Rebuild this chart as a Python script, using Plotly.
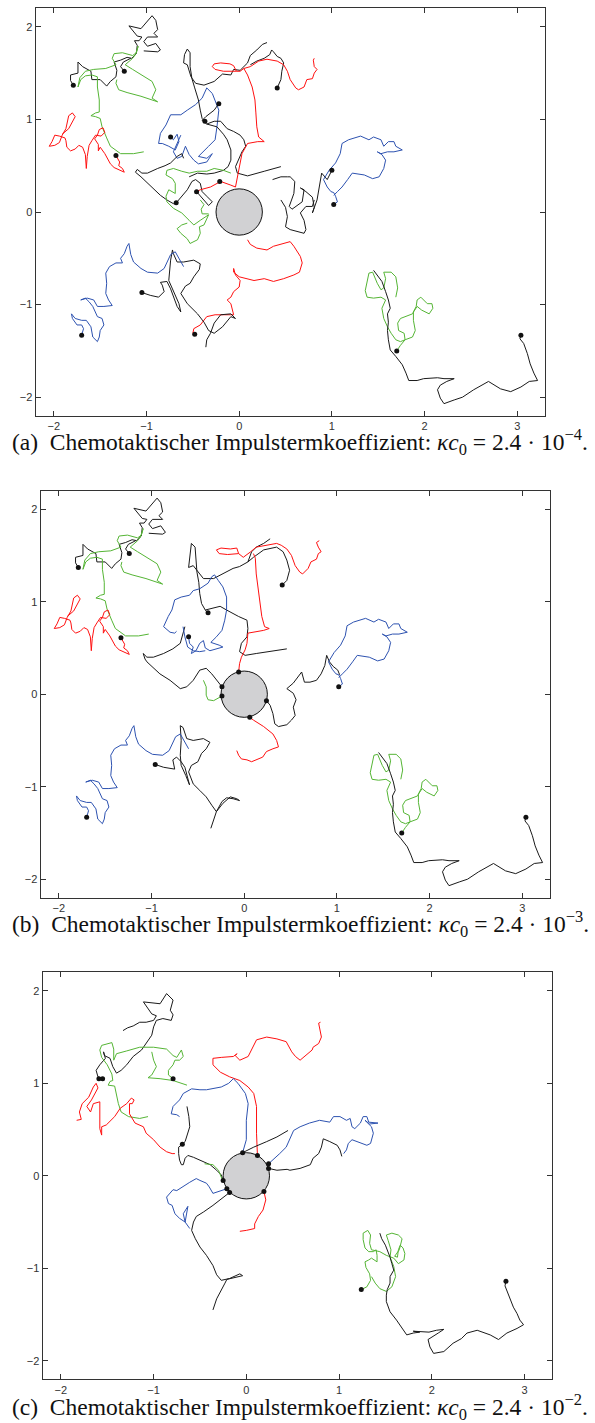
import plotly.graph_objects as go

# ---------------- tick labels ----------------
X_TICKS = [-2, -1, 0, 1, 2, 3]
Y_TICKS = [-2, -1, 0, 1, 2]
CIRCLE_RADIUS = 0.25

# ---------------- paths shared by panels (a) and (b) ----------------
TL_BLACK = [(-1.79,1.37),(-1.82,1.42),(-1.82,1.48),(-1.74,1.50),(-1.74,1.62),(-1.69,1.57),(-1.60,1.52),(-1.59,1.43),(-1.50,1.43),(-1.43,1.36),(-1.39,1.41),(-1.33,1.46),(-1.32,1.53),(-1.35,1.62),(-1.28,1.64),(-1.21,1.67),(-1.16,1.66),(-1.11,1.71),(-1.10,1.80),(-1.13,1.85),(-1.08,1.85),(-1.05,1.89),(-1.10,1.90),(-1.19,2.01),(-1.06,1.98),(-1.02,2.03),(-0.94,2.12),(-0.90,2.07),(-0.88,1.97),(-0.92,1.93),(-0.88,1.89),(-0.99,1.89),(-1.03,1.84),(-0.99,1.79),(-0.90,1.82),(-0.85,1.75),(-0.88,1.73),(-1.03,1.74)]
TL_BLACK2 = [(-1.24,1.52),(-1.28,1.57),(-1.25,1.62),(-1.17,1.66)]
TL_GREEN = [(-1.03,0.65),(-1.14,0.63),(-1.28,0.63),(-1.39,0.71),(-1.43,0.80),(-1.48,0.92),(-1.50,1.01),(-1.55,1.03),(-1.60,1.04),(-1.55,1.07),(-1.51,1.08),(-1.51,1.21),(-1.53,1.35),(-1.53,1.46),(-1.59,1.48),(-1.66,1.47),(-1.71,1.43),(-1.74,1.35),(-1.72,1.45),(-1.66,1.52),(-1.57,1.54),(-1.44,1.55),(-1.33,1.59),(-1.37,1.66),(-1.35,1.71),(-1.26,1.72),(-1.15,1.69),(-1.11,1.72),(-1.09,1.79),(-1.12,1.70),(-1.15,1.66),(-1.23,1.59),(-1.15,1.54),(-1.05,1.48),(-0.94,1.41),(-0.90,1.32),(-0.94,1.23),(-0.88,1.19),(-0.94,1.21),(-1.06,1.25),(-1.21,1.29),(-1.30,1.32),(-1.33,1.39),(-1.32,1.43)]
TL_RED = [(-1.33,0.61),(-1.29,0.54),(-1.30,0.50),(-1.26,0.47),(-1.24,0.43),(-1.29,0.45),(-1.35,0.48),(-1.39,0.52),(-1.42,0.58),(-1.45,0.63),(-1.50,0.70),(-1.52,0.66),(-1.52,0.73),(-1.56,0.79),(-1.53,0.83),(-1.51,0.89),(-1.47,0.91),(-1.45,0.86),(-1.49,0.82),(-1.55,0.83),(-1.59,0.77),(-1.62,0.72),(-1.64,0.60),(-1.65,0.47),(-1.66,0.62),(-1.69,0.70),(-1.73,0.72),(-1.77,0.68),(-1.82,0.66),(-1.86,0.70),(-1.87,0.77),(-1.88,0.80),(-1.94,0.82),(-1.99,0.83),(-2.02,0.76),(-2.05,0.71),(-1.99,0.72),(-1.94,0.75),(-1.91,0.83),(-1.87,0.90),(-1.84,1.04),(-1.80,1.07),(-1.77,1.03),(-1.80,0.97),(-1.84,0.90),(-1.91,0.84)]
LL_BLUE = [(-1.70,-1.33),(-1.68,-1.26),(-1.70,-1.22),(-1.75,-1.22),(-1.80,-1.15),(-1.81,-1.10),(-1.77,-1.15),(-1.70,-1.17),(-1.65,-1.17),(-1.60,-1.24),(-1.58,-1.35),(-1.53,-1.40),(-1.51,-1.35),(-1.50,-1.28),(-1.46,-1.22),(-1.48,-1.15),(-1.53,-1.13),(-1.55,-1.08),(-1.58,-1.02),(-1.62,-0.97),(-1.66,-0.93),(-1.71,-0.95),(-1.64,-0.93),(-1.57,-0.95),(-1.53,-1.02),(-1.46,-1.02),(-1.37,-1.01),(-1.41,-0.95),(-1.44,-0.88),(-1.43,-0.77),(-1.44,-0.66),(-1.40,-0.59),(-1.33,-0.55),(-1.26,-0.55),(-1.28,-0.50),(-1.24,-0.45),(-1.21,-0.37),(-1.19,-0.34),(-1.17,-0.46),(-1.14,-0.54),(-1.06,-0.61),(-0.99,-0.65),(-0.88,-0.66),(-0.81,-0.61),(-0.78,-0.54),(-0.74,-0.46),(-0.69,-0.43),(-0.63,-0.54),(-0.60,-0.59)]
LR_GREEN = [(1.70,-1.50),(1.74,-1.44),(1.79,-1.38),(1.87,-1.35),(1.90,-1.28),(1.88,-1.17),(1.88,-1.08),(1.92,-1.02),(1.97,-1.06),(2.05,-1.10),(2.09,-1.04),(2.08,-0.99),(2.03,-0.99),(1.99,-0.95),(1.96,-0.92),(1.92,-0.95),(1.91,-1.02),(1.87,-1.10),(1.79,-1.13),(1.74,-1.15),(1.71,-1.20),(1.72,-1.28),(1.78,-1.31),(1.79,-1.38),(1.74,-1.40),(1.69,-1.38),(1.64,-1.31),(1.60,-1.24),(1.56,-1.15),(1.54,-1.04),(1.58,-0.95),(1.53,-0.92),(1.45,-0.93),(1.38,-0.92),(1.36,-0.85),(1.38,-0.77),(1.40,-0.66),(1.44,-0.65),(1.49,-0.77),(1.53,-0.84),(1.56,-0.82),(1.58,-0.72),(1.56,-0.65),(1.64,-0.65),(1.69,-0.70),(1.71,-0.82),(1.69,-0.92)]
LR_BLACK = [(1.45,-0.63),(1.49,-0.68),(1.54,-0.75),(1.58,-0.86),(1.61,-0.95),(1.63,-1.04),(1.60,-1.10),(1.61,-1.19),(1.60,-1.28),(1.61,-1.38),(1.63,-1.49),(1.69,-1.56),(1.76,-1.65),(1.80,-1.74),(1.83,-1.82),(1.92,-1.82),(1.99,-1.80),(2.14,-1.79),(2.21,-1.80),(2.32,-1.80),(2.24,-1.83),(2.17,-1.87),(2.14,-1.92),(2.17,-2.01),(2.21,-2.07),(2.32,-2.03),(2.41,-2.00),(2.53,-1.92),(2.69,-1.83),(2.82,-1.91),(2.93,-1.94),(3.04,-1.89),(3.13,-1.83),(3.22,-1.82),(3.18,-1.74),(3.14,-1.64),(3.11,-1.53),(3.07,-1.42),(3.03,-1.37),(3.04,-1.33)]
R_BLUE = [(1.02,0.08),(1.06,0.11),(1.04,0.17),(1.02,0.21),(0.99,0.22),(0.95,0.27),(0.91,0.35),(0.97,0.45),(1.04,0.53),(1.09,0.63),(1.11,0.74),(1.18,0.78),(1.31,0.82),(1.40,0.78),(1.45,0.81),(1.53,0.78),(1.56,0.71),(1.61,0.76),(1.67,0.76),(1.69,0.71),(1.76,0.67),(1.67,0.65),(1.60,0.65),(1.53,0.63),(1.49,0.65),(1.54,0.62),(1.58,0.56),(1.56,0.47),(1.51,0.38),(1.44,0.36),(1.35,0.40),(1.22,0.42),(1.17,0.35),(1.11,0.27),(1.06,0.22),(1.02,0.18)]

# ---------------- panel (a) only ----------------
A_BLUE_C = [(-0.74,0.81),(-0.71,0.78),(-0.67,0.84),(-0.65,0.76),(-0.69,0.67),(-0.76,0.71),(-0.83,0.74),(-0.87,0.74),(-0.85,0.85),(-0.79,0.94),(-0.74,1.05),(-0.63,1.05),(-0.56,1.10),(-0.47,1.16),(-0.40,1.23),(-0.35,1.34),(-0.29,1.28),(-0.26,1.21),(-0.22,1.10),(-0.24,0.92),(-0.26,0.78),(-0.33,0.71),(-0.40,0.64),(-0.44,0.60),(-0.35,0.58),(-0.29,0.63),(-0.35,0.54),(-0.44,0.52),(-0.49,0.56),(-0.54,0.62),(-0.58,0.71),(-0.62,0.60),(-0.67,0.58),(-0.71,0.65),(-0.63,0.83)]
A_BLACK_TOP = [(0.30,1.83),(0.25,1.81),(0.19,1.75),(0.12,1.69),(0.09,1.61),(0.01,1.53),(-0.06,1.54),(-0.09,1.48),(-0.18,1.49),(-0.27,1.41),(-0.38,1.37),(-0.47,1.39),(-0.52,1.46),(-0.54,1.54),(-0.56,1.59),(-0.60,1.61),(-0.59,1.70),(-0.56,1.76),(-0.53,1.72),(-0.53,1.57),(-0.51,1.44),(-0.48,1.34),(-0.44,1.21),(-0.42,1.10),(-0.40,1.01),(-0.37,0.98)]
A_BLACK_TR = [(0.41,1.34),(0.45,1.43),(0.46,1.52),(0.48,1.61),(0.45,1.66),(0.41,1.68),(0.37,1.73),(0.35,1.75),(0.33,1.70),(0.27,1.66),(0.19,1.63),(0.12,1.59)]
A_BLACK_MID = [(-0.22,1.17),(-0.27,1.10),(-0.36,1.03),(-0.40,0.99),(-0.35,0.95),(-0.27,0.98),(-0.20,0.98),(-0.13,0.90),(-0.06,0.87),(0.01,0.83),(0.05,0.78),(0.07,0.71),(0.03,0.65),(0.00,0.58),(-0.04,0.49),(-0.02,0.42),(0.09,0.39),(0.27,0.44),(0.45,0.49)]
A_BLACK_MID2 = [(-0.35,0.95),(-0.24,0.92),(-0.17,0.84),(-0.13,0.78),(-0.09,0.67),(-0.09,0.56),(-0.12,0.49),(-0.17,0.45),(-0.27,0.42),(-0.35,0.41),(-0.45,0.42),(-0.54,0.38)]
A_BLACK_LEFT = [(-0.60,0.58),(-0.62,0.63),(-0.67,0.60),(-0.74,0.53),(-0.80,0.50),(-0.88,0.47),(-0.99,0.42),(-1.05,0.42),(-1.10,0.46),(-1.12,0.43),(-1.06,0.38),(-1.01,0.33),(-0.92,0.24),(-0.85,0.18),(-0.78,0.13),(-0.71,0.09),(-0.67,0.11),(-0.62,0.17),(-0.56,0.24),(-0.51,0.33),(-0.47,0.35),(-0.42,0.31),(-0.40,0.22),(-0.35,0.17),(-0.29,0.11),(-0.33,0.07),(-0.38,0.13),(-0.42,0.18),(-0.46,0.22)]
A_GREEN_C = [(-0.09,0.42),(-0.17,0.45),(-0.27,0.47),(-0.35,0.44),(-0.45,0.44),(-0.54,0.42),(-0.62,0.44),(-0.71,0.47),(-0.78,0.45),(-0.79,0.40),(-0.72,0.36),(-0.69,0.31),(-0.69,0.20),(-0.76,0.24),(-0.79,0.17),(-0.78,0.11),(-0.71,0.04),(-0.62,-0.01),(-0.54,-0.09),(-0.49,-0.14),(-0.42,-0.09),(-0.33,-0.03),(-0.38,-0.14),(-0.43,-0.16),(-0.42,-0.23),(-0.45,-0.30),(-0.53,-0.34),(-0.56,-0.29),(-0.63,-0.23),(-0.67,-0.18),(-0.62,-0.14),(-0.56,-0.12)]
A_GREEN_C2 = [(-0.42,0.13),(-0.38,0.08),(-0.41,0.03),(-0.40,-0.02),(-0.33,-0.02)]
A_RED_TR = [(0.81,1.66),(0.80,1.64),(0.81,1.57),(0.84,1.54),(0.81,1.50),(0.79,1.44),(0.73,1.43),(0.70,1.35),(0.64,1.32),(0.61,1.34),(0.55,1.43),(0.52,1.52),(0.48,1.59),(0.41,1.63),(0.30,1.65),(0.21,1.63),(0.12,1.57),(0.05,1.55),(0.01,1.52),(-0.03,1.52),(-0.06,1.58),(-0.10,1.60),(-0.20,1.61),(-0.27,1.60),(-0.29,1.57),(-0.26,1.54),(-0.17,1.52),(-0.09,1.52),(-0.03,1.52)]
A_RED_DOWN = [(0.05,1.55),(0.09,1.48),(0.14,1.35),(0.17,1.21),(0.18,1.07),(0.19,0.92),(0.21,0.81),(0.27,0.76),(0.20,0.76),(0.09,0.74),(0.03,0.63),(0.00,0.49),(-0.02,0.38),(-0.04,0.27),(-0.09,0.29),(-0.20,0.33),(-0.31,0.27),(-0.42,0.24),(-0.46,0.22)]
A_BLACK_R = [(0.36,0.35),(0.45,0.38),(0.52,0.38),(0.55,0.38),(0.60,0.33),(0.59,0.20),(0.54,0.06),(0.57,0.03),(0.68,0.11),(0.70,0.24),(0.66,0.26),(0.72,0.22),(0.79,0.16),(0.81,0.05),(0.79,-0.01),(0.84,0.13),(0.89,0.42),(0.95,0.35),(1.00,0.45)]
A_BLACK_R2 = [(0.45,0.13),(0.50,0.05),(0.52,-0.05),(0.50,-0.16),(0.55,-0.19),(0.62,-0.21),(0.70,-0.23),(0.72,-0.19),(0.70,-0.09),(0.66,-0.01),(0.72,0.06),(0.79,0.06),(0.81,0.13)]
A_RED_LOW = [(0.09,-0.30),(0.12,-0.35),(0.19,-0.39),(0.30,-0.41),(0.37,-0.37),(0.48,-0.34),(0.55,-0.32),(0.59,-0.37),(0.66,-0.48),(0.68,-0.55),(0.65,-0.65),(0.59,-0.68),(0.48,-0.72),(0.37,-0.75),(0.27,-0.72),(0.16,-0.74),(0.09,-0.72),(0.00,-0.70),(-0.06,-0.65),(-0.06,-0.61),(-0.04,-0.68),(0.01,-0.74),(0.00,-0.81),(-0.06,-0.86),(-0.09,-0.92),(-0.13,-0.95),(-0.09,-0.99),(-0.08,-1.04),(-0.06,-1.11),(-0.16,-1.11),(-0.26,-1.11),(-0.35,-1.13),(-0.42,-1.22),(-0.49,-1.26),(-0.50,-1.31)]
A_BLACK_LOW = [(-1.05,-0.87),(-0.96,-0.90),(-0.87,-0.92),(-0.81,-0.86),(-0.83,-0.79),(-0.85,-0.76),(-0.78,-0.75),(-0.74,-0.83),(-0.67,-1.02),(-0.63,-1.08),(-0.65,-0.99),(-0.71,-0.85),(-0.76,-0.74),(-0.74,-0.52),(-0.72,-0.41),(-0.71,-0.45),(-0.67,-0.54),(-0.60,-0.54),(-0.49,-0.52),(-0.42,-0.56),(-0.43,-0.62),(-0.49,-0.70),(-0.53,-0.77),(-0.58,-0.80),(-0.63,-0.88),(-0.56,-0.99),(-0.45,-1.10),(-0.38,-1.19),(-0.33,-1.28),(-0.27,-1.31),(-0.18,-1.24),(-0.09,-1.13),(-0.04,-1.15),(-0.09,-1.10),(-0.20,-1.11),(-0.27,-1.20),(-0.31,-1.31),(-0.35,-1.38),(-0.36,-1.46)]
A_DOTS = [(-1.79,1.37),(-1.24,1.52),(-1.33,0.61),(-0.74,0.81),(-0.22,1.17),(-0.37,0.98),(0.41,1.34),(-0.46,0.22),(-0.21,0.33),(-0.68,0.10),(1.00,0.45),(1.02,0.08),(-1.70,-1.33),(-1.05,-0.87),(-0.48,-1.32),(1.70,-1.50),(3.04,-1.33)]

# ---------------- panel (b) only ----------------
B_BLACK_TOP = [(0.28,1.68),(0.21,1.63),(0.13,1.59),(0.08,1.54),(0.04,1.43),(-0.05,1.38),(-0.12,1.36),(-0.23,1.30),(-0.33,1.25),(-0.44,1.25),(-0.48,1.30),(-0.55,1.39),(-0.60,1.37),(-0.59,1.48),(-0.57,1.63),(-0.53,1.59),(-0.52,1.45),(-0.51,1.32),(-0.49,1.21),(-0.48,1.09),(-0.46,0.98),(-0.42,0.91),(-0.39,0.88)]
B_BLACK_TR = [(0.04,1.43),(0.10,1.48),(0.21,1.56),(0.35,1.59),(0.42,1.54),(0.46,1.45),(0.49,1.34),(0.46,1.23),(0.41,1.18)]
B_BLACK_MID = [(-0.42,0.91),(-0.35,0.93),(-0.26,0.95),(-0.19,0.91),(-0.12,0.87),(-0.06,0.84),(0.03,0.80),(0.04,0.71),(0.03,0.62),(-0.03,0.55),(-0.05,0.46),(0.01,0.42),(0.13,0.44),(0.31,0.47),(0.46,0.49)]
B_BLACK_LEFT = [(-0.64,0.73),(-0.66,0.66),(-0.69,0.55),(-0.77,0.49),(-0.87,0.44),(-0.98,0.40),(-1.05,0.40),(-1.09,0.44),(-1.07,0.38),(-1.05,0.35),(-1.00,0.30),(-0.91,0.22),(-0.80,0.15),(-0.69,0.06),(-0.62,0.08),(-0.55,0.15),(-0.48,0.26),(-0.41,0.28),(-0.35,0.22),(-0.30,0.15),(-0.24,0.08)]
B_BLUE_C = [(-0.60,0.62),(-0.59,0.55),(-0.55,0.51),(-0.57,0.44),(-0.52,0.47),(-0.48,0.55),(-0.44,0.58),(-0.42,0.50),(-0.37,0.47),(-0.30,0.49),(-0.23,0.51),(-0.27,0.53),(-0.33,0.55),(-0.36,0.56),(-0.30,0.62),(-0.24,0.69),(-0.21,0.80),(-0.19,0.91),(-0.19,1.05),(-0.23,1.16),(-0.28,1.23),(-0.32,1.29),(-0.35,1.27),(-0.39,1.20),(-0.48,1.14),(-0.55,1.12),(-0.59,1.07),(-0.68,1.05),(-0.75,1.02),(-0.78,0.91),(-0.82,0.84),(-0.86,0.76),(-0.87,0.73),(-0.80,0.67),(-0.75,0.66),(-0.73,0.68)]
B_BLUE_C2 = [(-0.66,0.73),(-0.64,0.62),(-0.61,0.51),(-0.55,0.47),(-0.48,0.46),(-0.42,0.47)]
B_RED_TR = [(0.81,1.66),(0.78,1.64),(0.80,1.59),(0.83,1.54),(0.80,1.52),(0.78,1.46),(0.72,1.43),(0.69,1.36),(0.63,1.30),(0.60,1.32),(0.55,1.39),(0.51,1.50),(0.46,1.57),(0.40,1.61),(0.35,1.63),(0.24,1.61),(0.13,1.59),(0.07,1.54),(0.02,1.50),(-0.01,1.48),(-0.06,1.52),(-0.08,1.58),(-0.15,1.57),(-0.25,1.58),(-0.30,1.56),(-0.27,1.52),(-0.18,1.51),(-0.06,1.52)]
B_RED_DOWN = [(0.10,1.52),(0.12,1.47),(0.13,1.30),(0.15,1.16),(0.17,0.98),(0.19,0.84),(0.22,0.73),(0.27,0.71),(0.21,0.69),(0.10,0.67),(0.04,0.66),(0.03,0.55),(0.01,0.48),(-0.03,0.40),(-0.05,0.33),(-0.06,0.24)]
B_RED_LOW = [(0.06,-0.25),(0.10,-0.28),(0.21,-0.35),(0.26,-0.39),(0.31,-0.43),(0.35,-0.50),(0.37,-0.57),(0.31,-0.59),(0.24,-0.62),(0.20,-0.68),(0.13,-0.71),(0.08,-0.73),(0.03,-0.71),(-0.03,-0.70),(-0.06,-0.66),(-0.08,-0.61)]
B_GREEN_C = [(-0.44,0.15),(-0.41,0.08),(-0.41,-0.01),(-0.39,-0.06),(-0.33,-0.07),(-0.29,-0.05),(-0.24,-0.02)]
B_BLACK_R = [(0.24,-0.07),(0.28,-0.12),(0.31,-0.21),(0.33,-0.32),(0.37,-0.35),(0.46,-0.33),(0.51,-0.28),(0.55,-0.23),(0.53,-0.14),(0.56,-0.06),(0.53,0.01),(0.46,0.06),(0.53,0.12),(0.58,0.19),(0.62,0.24),(0.65,0.13),(0.71,0.13),(0.78,0.15),(0.83,0.22),(0.87,0.31),(0.89,0.42),(0.92,0.35),(0.96,0.30),(1.01,0.26),(1.03,0.21)]
B_BLACK_LOW = [(-0.96,-0.76),(-0.87,-0.79),(-0.75,-0.81),(-0.77,-0.71),(-0.73,-0.68),(-0.68,-0.73),(-0.64,-0.79),(-0.60,-0.93),(-0.59,-0.98),(-0.63,-0.88),(-0.68,-0.77),(-0.69,-0.66),(-0.68,-0.50),(-0.69,-0.34),(-0.66,-0.36),(-0.62,-0.48),(-0.55,-0.50),(-0.44,-0.48),(-0.37,-0.52),(-0.41,-0.59),(-0.46,-0.64),(-0.50,-0.73),(-0.57,-0.77),(-0.60,-0.84),(-0.55,-0.97),(-0.48,-1.04),(-0.41,-1.11),(-0.35,-1.20),(-0.30,-1.27),(-0.23,-1.18),(-0.15,-1.11),(-0.08,-1.13),(-0.05,-1.15),(-0.12,-1.13),(-0.19,-1.12),(-0.24,-1.16),(-0.30,-1.27),(-0.33,-1.36),(-0.36,-1.45)]
B_DOTS = [(-1.79,1.37),(-1.24,1.52),(-1.33,0.61),(-0.60,0.62),(-0.39,0.88),(0.41,1.18),(-0.24,0.08),(-0.24,-0.02),(-0.06,0.24),(0.24,-0.07),(0.06,-0.25),(1.02,0.08),(-0.96,-0.76),(-1.70,-1.33),(1.70,-1.50),(3.04,-1.33)]

# ---------------- panel (c) ----------------
C_TL_BLACK = [(-1.33,1.57),(-1.28,1.60),(-1.22,1.62),(-1.15,1.66),(-1.08,1.66),(-1.00,1.68),(-0.97,1.73),(-1.02,1.75),(-1.11,1.88),(-0.93,1.86),(-0.86,1.97),(-0.79,1.90),(-0.82,1.79),(-0.79,1.74),(-0.81,1.68),(-0.90,1.70),(-0.97,1.68),(-1.00,1.61),(-1.02,1.52),(-1.08,1.43),(-1.13,1.36),(-1.22,1.29),(-1.29,1.20),(-1.35,1.14),(-1.40,1.11),(-1.44,1.18),(-1.47,1.27),(-1.53,1.30),(-1.54,1.34),(-1.52,1.27),(-1.58,1.20),(-1.62,1.14),(-1.60,1.07),(-1.55,1.05)]
C_TL_GREEN = [(-1.06,0.64),(-1.15,0.62),(-1.27,0.64),(-1.35,0.69),(-1.38,0.78),(-1.40,0.89),(-1.42,0.97),(-1.49,0.98),(-1.47,1.02),(-1.44,1.03),(-1.45,1.10),(-1.50,1.20),(-1.56,1.28),(-1.58,1.36),(-1.56,1.41),(-1.45,1.44),(-1.43,1.37),(-1.43,1.25),(-1.40,1.32),(-1.29,1.35),(-1.15,1.39),(-1.00,1.39),(-0.86,1.37),(-0.79,1.30),(-0.75,1.28),(-0.70,1.36),(-0.68,1.29),(-0.72,1.25),(-0.77,1.25),(-0.79,1.20),(-0.84,1.14),(-0.84,1.09),(-0.79,1.05)]
C_TL_GREEN2 = [(-1.02,1.34),(-1.00,1.25),(-0.97,1.18),(-1.02,1.09),(-1.06,1.06),(-0.93,1.05),(-0.79,1.03),(-0.64,0.98)]
C_TL_RED = [(-1.83,0.60),(-1.78,0.61),(-1.80,0.69),(-1.77,0.78),(-1.70,0.85),(-1.65,0.96),(-1.62,1.00),(-1.60,0.95),(-1.67,0.82),(-1.72,0.75),(-1.68,0.69),(-1.65,0.78),(-1.58,0.80),(-1.58,0.67),(-1.58,0.51),(-1.56,0.44),(-1.56,0.53),(-1.51,0.55),(-1.42,0.64),(-1.36,0.73),(-1.29,0.78),(-1.24,0.84),(-1.21,0.82),(-1.23,0.78),(-1.26,0.78),(-1.26,0.67),(-1.20,0.57),(-1.11,0.53),(-1.08,0.46),(-1.00,0.39),(-0.93,0.31),(-0.86,0.26),(-0.80,0.24),(-0.77,0.24)]
C_MID_BLACK = [(-0.64,0.75),(-0.62,0.64),(-0.61,0.53),(-0.64,0.44),(-0.66,0.37),(-0.69,0.34),(-0.73,0.31),(-0.73,0.24),(-0.72,0.17),(-0.70,0.12),(-0.68,0.12),(-0.66,0.19),(-0.63,0.22),(-0.57,0.20),(-0.50,0.17),(-0.45,0.15),(-0.39,0.12),(-0.32,0.06),(-0.27,0.01),(-0.25,-0.05)]
C_RED_C = [(0.12,0.22),(0.11,0.46),(0.11,0.75),(0.08,0.89),(0.02,0.96),(-0.07,1.03),(-0.18,1.07),(-0.28,1.12),(-0.36,1.20),(-0.36,1.27),(-0.27,1.28),(-0.14,1.29),(-0.10,1.32),(-0.12,1.30),(-0.07,1.25),(0.02,1.29),(0.11,1.47),(0.22,1.50),(0.33,1.48),(0.43,1.45),(0.49,1.34),(0.53,1.29),(0.58,1.25),(0.63,1.29),(0.71,1.36),(0.72,1.39),(0.78,1.43),(0.81,1.50),(0.80,1.54),(0.78,1.65),(0.80,1.66)]
C_BLUE_C = [(-0.04,0.25),(0.00,0.39),(0.00,0.60),(0.02,0.78),(-0.01,0.89),(-0.09,1.00),(-0.14,1.05),(-0.19,1.00),(-0.27,0.96),(-0.36,0.94),(-0.43,0.93),(-0.50,0.93),(-0.59,0.94),(-0.68,0.89),(-0.72,0.82),(-0.79,0.75),(-0.81,0.67),(-0.75,0.66),(-0.72,0.64)]
C_BLACK_NE = [(-0.04,0.25),(0.08,0.31),(0.22,0.37),(0.33,0.42),(0.45,0.49)]
C_BLUE_R = [(0.24,0.13),(0.33,0.21),(0.36,0.24),(0.43,0.31),(0.51,0.49),(0.58,0.53),(0.68,0.57),(0.79,0.60),(0.90,0.58),(0.94,0.64),(1.01,0.64),(1.08,0.60),(1.12,0.62),(1.14,0.53),(1.17,0.51),(1.23,0.57),(1.26,0.64),(1.30,0.64),(1.32,0.58),(1.42,0.57),(1.33,0.56),(1.28,0.60),(1.35,0.53),(1.37,0.46),(1.34,0.35),(1.30,0.33),(1.24,0.35),(1.19,0.37),(1.14,0.39),(1.10,0.35),(1.08,0.28),(1.05,0.24)]
C_BLACK_R = [(0.24,0.08),(0.33,0.06),(0.44,0.07),(0.47,0.06),(0.58,0.08),(0.69,0.12),(0.72,0.19),(0.78,0.24),(0.81,0.31),(0.83,0.40),(0.90,0.37),(0.98,0.33),(1.01,0.28),(1.03,0.21)]
C_RED_LOW = [(0.19,-0.17),(0.21,-0.26),(0.18,-0.37),(0.13,-0.44),(0.09,-0.52),(0.09,-0.57),(0.00,-0.59),(-0.07,-0.60)]
C_BLACK_LOW = [(-0.18,-0.18),(-0.28,-0.26),(-0.36,-0.32),(-0.46,-0.39),(-0.54,-0.44),(-0.57,-0.50),(-0.59,-0.59),(-0.55,-0.68),(-0.50,-0.77),(-0.43,-0.86),(-0.36,-0.97),(-0.32,-1.07),(-0.27,-1.13),(-0.18,-1.11),(-0.07,-1.06),(-0.04,-1.08),(-0.14,-1.10),(-0.21,-1.12),(-0.23,-1.16),(-0.27,-1.24),(-0.32,-1.33),(-0.36,-1.45)]
C_BLUE_LOW = [(-0.21,-0.14),(-0.28,-0.16),(-0.36,-0.19),(-0.40,-0.12),(-0.43,-0.08),(-0.50,-0.05),(-0.54,-0.03),(-0.61,-0.07),(-0.68,-0.12),(-0.75,-0.16),(-0.79,-0.15),(-0.86,-0.23),(-0.84,-0.30),(-0.80,-0.32),(-0.77,-0.41),(-0.72,-0.46),(-0.66,-0.50),(-0.68,-0.41),(-0.63,-0.33),(-0.65,-0.42),(-0.66,-0.50),(-0.61,-0.57)]
C_GREEN_C = [(-0.45,0.13),(-0.36,0.12),(-0.30,0.06),(-0.26,-0.04)]
C_GREEN_LR = [(1.24,-1.23),(1.30,-1.20),(1.34,-1.13),(1.33,-1.06),(1.29,-0.99),(1.28,-0.93),(1.32,-0.91),(1.35,-0.89),(1.41,-0.93),(1.41,-0.86),(1.40,-0.80),(1.37,-0.82),(1.32,-0.82),(1.28,-0.78),(1.26,-0.69),(1.26,-0.62),(1.31,-0.59),(1.34,-0.64),(1.33,-0.73),(1.35,-0.80),(1.44,-0.82),(1.51,-0.86),(1.59,-0.89),(1.64,-0.95),(1.70,-0.91),(1.71,-0.84),(1.69,-0.78),(1.66,-0.75),(1.64,-0.80),(1.63,-0.88),(1.60,-0.87),(1.65,-0.80),(1.68,-0.68),(1.64,-0.64),(1.57,-0.62),(1.51,-0.64),(1.53,-0.70),(1.56,-0.80),(1.55,-0.88),(1.59,-0.98),(1.61,-1.09),(1.57,-1.20),(1.51,-1.25),(1.44,-1.22),(1.39,-1.16),(1.35,-1.09)]
C_BLACK_LR = [(1.44,-0.62),(1.46,-0.68),(1.50,-0.75),(1.53,-0.82),(1.55,-0.88),(1.57,-0.95),(1.59,-1.02),(1.55,-1.09),(1.55,-1.16),(1.52,-1.23),(1.51,-1.29),(1.51,-1.36),(1.55,-1.47),(1.62,-1.56),(1.68,-1.65),(1.73,-1.72),(1.80,-1.70),(1.87,-1.69),(1.80,-1.68),(1.97,-1.69),(2.05,-1.67),(2.13,-1.66),(2.07,-1.70),(2.00,-1.74),(1.96,-1.77),(1.98,-1.85),(2.02,-1.92),(2.13,-1.90),(2.16,-1.87),(2.23,-1.81),(2.32,-1.76),(2.38,-1.70),(2.49,-1.67),(2.63,-1.72),(2.72,-1.77),(2.81,-1.70),(2.92,-1.65),(2.99,-1.61),(2.95,-1.56),(2.92,-1.49),(2.88,-1.42),(2.84,-1.31),(2.81,-1.23),(2.79,-1.19),(2.80,-1.14)]
C_DOTS = [(-1.55,1.05),(-1.59,1.05),(-0.79,1.05),(-0.69,0.34),(-0.04,0.25),(0.12,0.22),(0.24,0.13),(0.24,0.08),(0.19,-0.17),(-0.18,-0.18),(-0.25,-0.05),(-0.21,-0.14),(1.24,-1.23),(2.80,-1.14)]

CAPTIONS = [
    "(a)\u2002Chemotaktischer Impulstermkoeffizient: <i>\u03bac</i><sub>0</sub> = 2.4 \u00b7 10<sup>\u22124</sup>.",
    "(b)\u2002Chemotaktischer Impulstermkoeffizient: <i>\u03bac</i><sub>0</sub> = 2.4 \u00b7 10<sup>\u22123</sup>.",
    "(c)\u2002Chemotaktischer Impulstermkoeffizient: <i>\u03bac</i><sub>0</sub> = 2.4 \u00b7 10<sup>\u22122</sup>.",
]

# ---------------- styling ----------------
COL = {"k": "#1a1a1a", "r": "#ff1010", "g": "#55b535", "b": "#2d52b0"}

PANELS = [
    dict(paths=[(TL_BLACK, "k"), (TL_BLACK2, "k"), (TL_GREEN, "g"), (TL_RED, "r"),
                (A_BLUE_C, "b"), (A_BLACK_TOP, "k"), (A_BLACK_TR, "k"), (A_BLACK_MID, "k"),
                (A_BLACK_MID2, "k"), (A_BLACK_LEFT, "k"), (A_GREEN_C, "g"), (A_GREEN_C2, "g"),
                (A_RED_TR, "r"), (A_RED_DOWN, "r"), (A_BLACK_R, "k"), (A_BLACK_R2, "k"),
                (A_RED_LOW, "r"), (A_BLACK_LOW, "k"), (LL_BLUE, "b"), (LR_GREEN, "g"),
                (LR_BLACK, "k"), (R_BLUE, "b")],
         dots=A_DOTS, x=(35.7, 545.0), y=(8.3, 415.7), cap_y=442),
    dict(paths=[(TL_BLACK, "k"), (TL_BLACK2, "k"), (TL_GREEN, "g"), (TL_RED, "r"),
                (B_BLACK_TOP, "k"), (B_BLACK_TR, "k"), (B_BLACK_MID, "k"), (B_BLACK_LEFT, "k"),
                (B_BLUE_C, "b"), (B_BLUE_C2, "b"), (B_RED_TR, "r"), (B_RED_DOWN, "r"),
                (B_RED_LOW, "r"), (B_GREEN_C, "g"), (B_BLACK_R, "k"), (B_BLACK_LOW, "k"),
                (LL_BLUE, "b"), (LR_GREEN, "g"), (LR_BLACK, "k"), (R_BLUE, "b")],
         dots=B_DOTS, x=(40.7, 550.0), y=(490.7, 897.7), cap_y=924),
    dict(paths=[(C_TL_BLACK, "k"), (C_TL_GREEN, "g"), (C_TL_GREEN2, "g"), (C_TL_RED, "r"),
                (C_MID_BLACK, "k"), (C_RED_C, "r"), (C_BLUE_C, "b"), (C_BLACK_NE, "k"),
                (C_BLUE_R, "b"), (C_BLACK_R, "k"), (C_RED_LOW, "r"), (C_BLACK_LOW, "k"),
                (C_BLUE_LOW, "b"), (C_GREEN_C, "g"), (C_GREEN_LR, "g"), (C_BLACK_LR, "k")],
         dots=C_DOTS, x=(42.7, 552.3), y=(972.3, 1379.3), cap_y=1407),
]

W, H = 595, 1423
fig = go.Figure()
shapes, annotations = [], []

for i, p in enumerate(PANELS):
    sfx = "" if i == 0 else str(i + 1)
    xr, yr = "x" + sfx, "y" + sfx
    for path, c in p["paths"]:
        fig.add_trace(go.Scatter(x=[q[0] for q in path], y=[q[1] for q in path], mode="lines",
                                 line=dict(color=COL[c], width=1), xaxis=xr, yaxis=yr,
                                 hoverinfo="skip", showlegend=False))
    fig.add_trace(go.Scatter(x=[q[0] for q in p["dots"]], y=[q[1] for q in p["dots"]], mode="markers",
                             marker=dict(color="#111111", size=5), xaxis=xr, yaxis=yr,
                             hoverinfo="skip", showlegend=False))
    shapes.append(dict(type="circle", xref=xr, yref=yr, x0=-CIRCLE_RADIUS, x1=CIRCLE_RADIUS,
                       y0=-CIRCLE_RADIUS, y1=CIRCLE_RADIUS, fillcolor="#d1d1d3",
                       line=dict(color="#111111", width=1), layer="below"))
    axcommon = dict(showline=True, linecolor="#333333", linewidth=1.3, mirror="ticks",
                    ticks="inside", ticklen=5, tickwidth=1, tickcolor="#333333",
                    showgrid=False, zeroline=False,
                    tickfont=dict(family="Liberation Sans, Arial, sans-serif", size=11, color="#333333"))
    fig.layout["xaxis" + sfx] = dict(domain=[p["x"][0] / W, p["x"][1] / W], range=[-2.196, 3.30],
                                      tickvals=X_TICKS, anchor=yr, **axcommon)
    fig.layout["yaxis" + sfx] = dict(domain=[(H - p["y"][1]) / H, (H - p["y"][0]) / H], range=[-2.2, 2.2],
                                      tickvals=Y_TICKS, anchor=xr, **axcommon)
    annotations.append(dict(text=CAPTIONS[i], xref="paper", yref="paper", x=11 / W, y=(H - p["cap_y"]) / H,
                            xanchor="left", yanchor="middle", showarrow=False, borderpad=0,
                            font=dict(family="Liberation Serif, Times New Roman, serif", size=23.5, color="#111111")))

fig.update_layout(width=W, height=H, margin=dict(l=0, r=0, t=0, b=0),
                  paper_bgcolor="white", plot_bgcolor="white",
                  shapes=shapes, annotations=annotations, showlegend=False)
fig.write_html("out.html")
